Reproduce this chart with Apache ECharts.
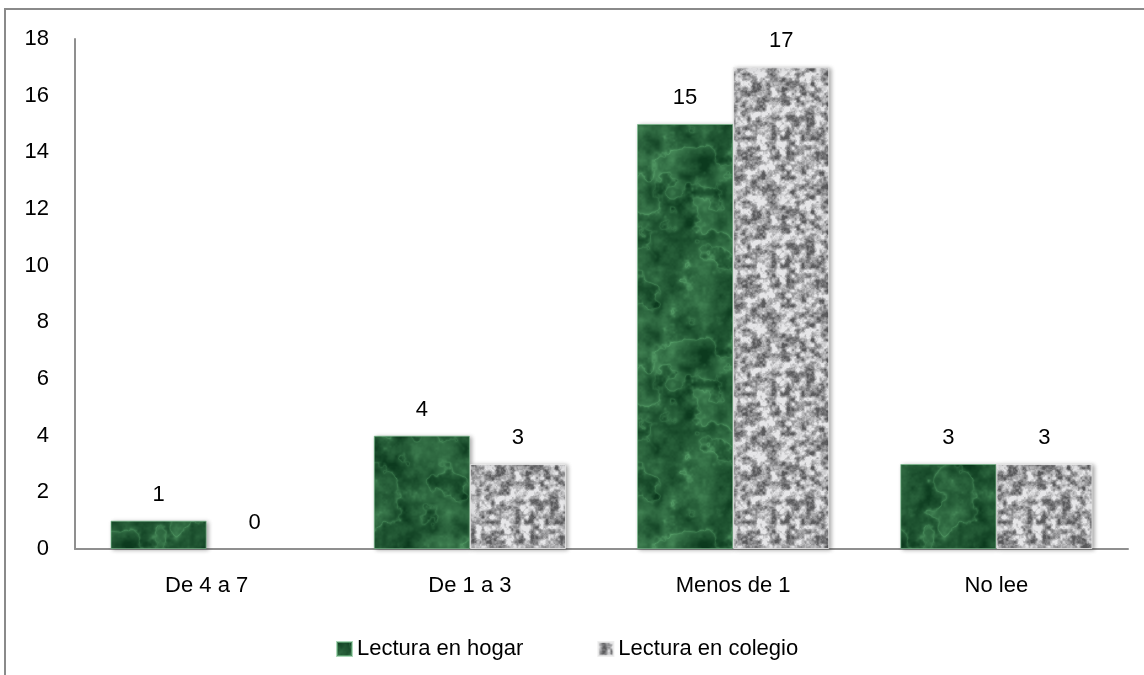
<!DOCTYPE html>
<html>
<head>
<meta charset="utf-8">
<script src="https://cdn.jsdelivr.net/npm/echarts@6/dist/echarts.min.js"></script>
<style>
  html, body { margin: 0; padding: 0; background: #fff; }
  #chart { width: 1144px; height: 675px; }
</style>
</head>
<body>
<div id="chart"></div>
<script>
// Categories and values
const categories = ['De 4 a 7', 'De 1 a 3', 'Menos de 1', 'No lee'];
const hogarValues = [1, 4, 15, 3];
const colegioValues = [0, 3, 17, 3];
const seriesNames = ['Lectura en hogar', 'Lectura en colegio'];

// --- tileable value noise for the bar textures ---
function hash(x, y, seed) {
  let h = (x * 374761393 + y * 668265263 + seed * 144665) | 0;
  h = Math.imul(h ^ (h >>> 13), 1274126177);
  h = h ^ (h >>> 16);
  return (h >>> 0) / 4294967295;
}
function smooth(t) { return t * t * (3 - 2 * t); }
function noise(x, y, period, seed) {
  const xi = Math.floor(x), yi = Math.floor(y);
  const xf = x - xi, yf = y - yi;
  const x0 = ((xi % period) + period) % period, x1 = (x0 + 1) % period;
  const y0 = ((yi % period) + period) % period, y1 = (y0 + 1) % period;
  const a = hash(x0, y0, seed), b = hash(x1, y0, seed);
  const c = hash(x0, y1, seed), d = hash(x1, y1, seed);
  const u = smooth(xf), v = smooth(yf);
  return (a * (1 - u) + b * u) * (1 - v) + (c * (1 - u) + d * u) * v;
}
function fbm(px, py, size, basePeriod, octaves, seed) {
  let sum = 0, amp = 1, norm = 0, period = basePeriod;
  for (let o = 0; o < octaves; o++) {
    sum += amp * noise(px / size * period, py / size * period, period, seed + o);
    norm += amp; amp *= 0.5; period *= 2;
  }
  return sum / norm;
}
const clamp01 = t => Math.max(0, Math.min(1, t));

// Green marble: mottled dark green with soft pale streaks
function makeMarble() {
  const size = 192;
  const cv = document.createElement('canvas');
  cv.width = size; cv.height = size;
  const ctx = cv.getContext('2d');
  const img = ctx.createImageData(size, size);
  for (let y = 0; y < size; y++) {
    for (let x = 0; x < size; x++) {
      const n = fbm(x, y, size, 3, 5, 11);
      const m = fbm(x, y, size, 12, 4, 37);
      const vein = Math.pow(1 - Math.abs(Math.sin((n * 5 + m * 1.2) * Math.PI)), 2.5);
      const t = clamp01(0.26 + (m - 0.5) * 0.9 + vein * 0.3);
      const r = 12 + t * 85, g = 58 + t * 115, b = 30 + t * 85;
      const i = (y * size + x) * 4;
      img.data[i] = r; img.data[i + 1] = g; img.data[i + 2] = b; img.data[i + 3] = 255;
    }
  }
  ctx.putImageData(img, 0, 0);
  return cv;
}

// Gray granite: fine dark speckles on light gray
function makeGranite() {
  const size = 128;
  const cv = document.createElement('canvas');
  cv.width = size; cv.height = size;
  const ctx = cv.getContext('2d');
  const img = ctx.createImageData(size, size);
  for (let y = 0; y < size; y++) {
    for (let x = 0; x < size; x++) {
      const n = fbm(x, y, size, 26, 3, 71);
      const t = clamp01((n - 0.5) * 2.0 + 0.55);
      const gray = 90 + t * 140;
      const i = (y * size + x) * 4;
      img.data[i] = gray; img.data[i + 1] = gray; img.data[i + 2] = gray + 2; img.data[i + 3] = 255;
    }
  }
  ctx.putImageData(img, 0, 0);
  return cv;
}

const marble = { image: makeMarble(), repeat: 'repeat' };
const granite = { image: makeGranite(), repeat: 'repeat' };

const FONT = 'Liberation Sans';
const chart = echarts.init(document.getElementById('chart'), null, { renderer: 'canvas' });

const labelStyle = {
  show: true,
  position: 'top',
  distance: 15,
  color: '#000',
  fontFamily: FONT,
  fontSize: 22
};
const barStyle = (fill, edge) => ({
  color: fill,
  borderColor: edge,
  borderWidth: 1,
  shadowColor: 'rgba(0,0,0,0.35)',
  shadowBlur: 4,
  shadowOffsetX: 2,
  shadowOffsetY: 1
});
// zero-height bars get no edge or shadow, only their label
const withFlatZeros = values => values.map(v => v === 0
  ? { value: v, itemStyle: { borderWidth: 0, shadowBlur: 0, shadowOffsetX: 0, shadowOffsetY: 0, shadowColor: 'transparent' } }
  : v);

chart.setOption({
  backgroundColor: '#fff',
  animation: false,
  graphic: [{
    type: 'rect',
    shape: { x: 5, y: 9, width: 1300, height: 900 },
    style: { fill: 'none', stroke: '#8a8a8a', lineWidth: 2 },
    silent: true
  }],
  grid: { left: 75, right: 16, top: 39, bottom: 126 },
  legend: {
    left: 336,
    top: 638,
    padding: 0,
    itemWidth: 15,
    itemHeight: 14,
    itemGap: 74,
    icon: 'rect',
    textStyle: { fontFamily: FONT, fontSize: 22, color: '#000' },
    data: seriesNames
  },
  xAxis: {
    type: 'category',
    data: categories,
    axisLine: { lineStyle: { color: '#8f8f8f', width: 2 } },
    axisTick: { show: false },
    axisLabel: { margin: 26, color: '#000', fontFamily: FONT, fontSize: 22 }
  },
  yAxis: {
    type: 'value',
    min: 0,
    max: 18,
    interval: 2,
    axisLine: { show: true, lineStyle: { color: '#8f8f8f', width: 2 } },
    axisTick: { show: false },
    splitLine: { show: false },
    axisLabel: { margin: 26, color: '#000', fontFamily: FONT, fontSize: 22 }
  },
  series: [
    {
      name: seriesNames[0],
      type: 'bar',
      data: withFlatZeros(hogarValues),
      barGap: '0%',
      barCategoryGap: '27%',
      itemStyle: barStyle(marble, 'rgba(120,190,140,0.6)'),
      label: labelStyle
    },
    {
      name: seriesNames[1],
      type: 'bar',
      data: withFlatZeros(colegioValues),
      itemStyle: barStyle(granite, 'rgba(235,235,235,0.8)'),
      label: labelStyle
    }
  ]
});
</script>
</body>
</html>
